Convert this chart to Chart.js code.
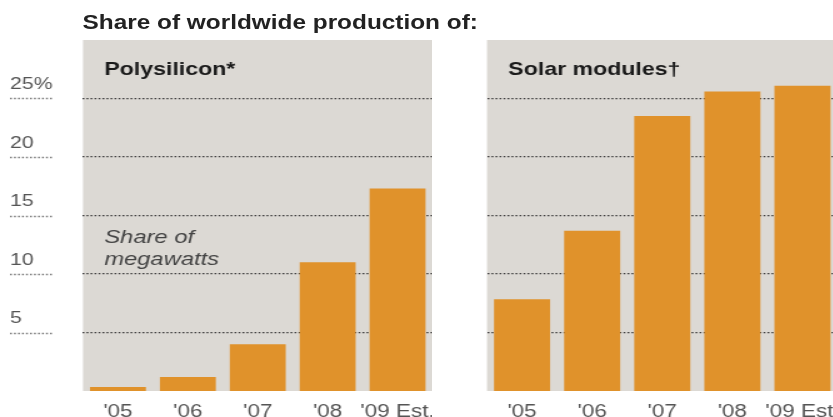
<!DOCTYPE html>
<html>
<head>
<meta charset="utf-8">
<script src="https://cdn.jsdelivr.net/npm/chart.js@4"></script>
<style>
  html, body { margin: 0; padding: 0; background: #fff; overflow: hidden; width: 833px; height: 417px; }
  /* the reference is stretched sideways, so the whole drawing is too */
  #wrap { position: absolute; left: 0; top: 0; width: 667px; height: 417px; transform: scaleX(1.25); transform-origin: 0 0; }
  #title { position: absolute; left: 66px; top: 12px; font: bold 19.5px "Liberation Sans", Arial, sans-serif; line-height: 20px; color: #222; white-space: nowrap; }
  canvas { position: absolute; top: 0; }
</style>
</head>
<body>
<div id="wrap">
  <div id="title">Share of worldwide production of:</div>
  <canvas id="poly" width="346" height="417" style="left:0"></canvas>
  <canvas id="mod" width="318" height="417" style="left:352px"></canvas>
</div>
<script>
const categories = ["'05", "'06", "'07", "'08", "'09 Est."];
const polysilicon = [0.35, 1.2, 4.0, 11.0, 17.3];
const solarModules = [7.85, 13.7, 23.5, 25.6, 26.1];
const yTicks = [5, 10, 15, 20, 25];
const yTickLabels = ['5', '10', '15', '20', '25%'];

const FONT = '"Liberation Sans", Arial, sans-serif';
const PANEL = '#dcd9d4';
const BAR = '#e0922b';
const DOTS = '#3c3c3c';
const DASH = [1.5, 1.7];

// grey box behind the plot area
const panelBg = {
  id: 'panelBg',
  beforeDraw(chart) {
    const { ctx, chartArea: a } = chart;
    ctx.save();
    ctx.fillStyle = PANEL;
    ctx.fillRect(a.left, 40, a.right - a.left, a.bottom - 40);
    ctx.restore();
  }
};

function notes(title, withAxisNote) {
  return {
    id: 'notes',
    afterDraw(chart) {
      const { ctx, chartArea: a } = chart;
      ctx.save();
      ctx.fillStyle = '#1a1a1a';
      ctx.font = 'bold 18.5px ' + FONT;
      ctx.textBaseline = 'alphabetic';
      ctx.fillText(title, a.left + 17, 75);
      if (withAxisNote) {
        ctx.fillStyle = '#444';
        ctx.font = 'italic 19px ' + FONT;
        ctx.fillText('Share of', a.left + 17, 243);
        ctx.fillText('megawatts', a.left + 17, 265);
        // short dotted rules under the tick labels
        const y = chart.scales.y;
        ctx.strokeStyle = '#777';
        ctx.lineWidth = 1.3;
        ctx.setLineDash(DASH);
        yTicks.forEach(v => {
          const py = Math.round(y.getPixelForValue(v)) + 0.5;
          ctx.beginPath();
          ctx.moveTo(8, py);
          ctx.lineTo(42.4, py);
          ctx.stroke();
        });
      }
      ctx.restore();
    }
  };
}

function makeChart(id, values, title, isLeft) {
  return new Chart(document.getElementById(id), {
    type: 'bar',
    data: {
      labels: categories,
      datasets: [{
        data: values,
        backgroundColor: BAR,
        borderWidth: 0,
        categoryPercentage: 0.8,
        barPercentage: 1
      }]
    },
    options: {
      responsive: false,
      animation: false,
      layout: { padding: { left: isLeft ? 8 : 0, top: 40, right: 0, bottom: 0 } },
      plugins: { legend: { display: false }, tooltip: { enabled: false } },
      scales: {
        x: {
          grid: { display: false, drawTicks: false },
          border: { display: false },
          afterFit: s => { s.height = 26; s.paddingLeft = 0; s.paddingRight = 0; },
          ticks: { color: '#555', font: { family: FONT, size: 18 }, padding: 10, maxRotation: 0, autoSkip: false }
        },
        y: {
          min: 0,
          max: 30,
          afterBuildTicks: s => { s.ticks = yTicks.map(v => ({ value: v })); },
          afterFit: s => { s.width = isLeft ? 58.4 : 37.6; s.paddingTop = 0; s.paddingBottom = 0; },
          border: { display: false, dash: DASH },
          grid: { color: DOTS, lineWidth: 1.3, drawTicks: false },
          ticks: {
            display: isLeft,
            color: '#555',
            font: { family: FONT, size: 17 },
            crossAlign: 'far',
            padding: 0,
            labelOffset: -14,
            callback: v => yTickLabels[yTicks.indexOf(v)]
          }
        }
      }
    },
    plugins: [panelBg, notes(title, isLeft)]
  });
}

makeChart('poly', polysilicon, 'Polysilicon*', true);
makeChart('mod', solarModules, 'Solar modules\u2020', false);
</script>
</body>
</html>
